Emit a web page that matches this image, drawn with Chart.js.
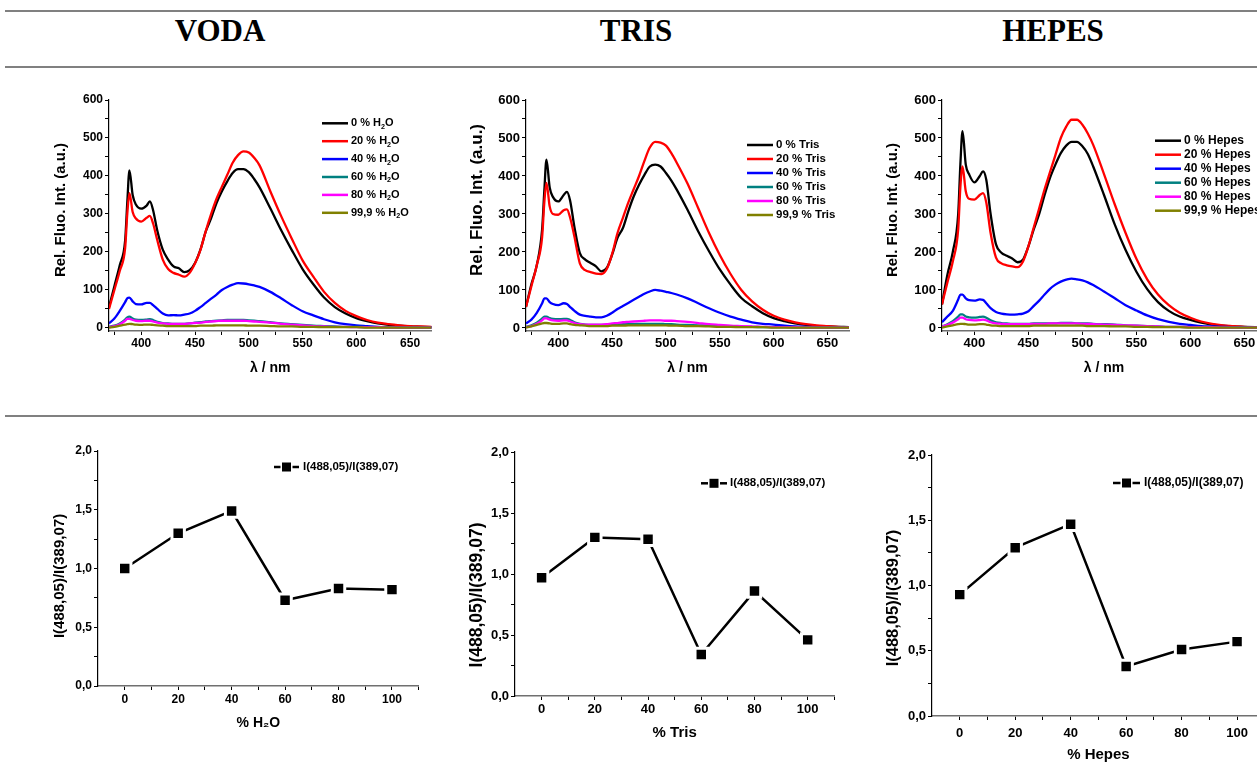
<!DOCTYPE html>
<html lang="en">
  <head>
    <meta charset="UTF-8" />
    <title>VODA / TRIS / HEPES</title>
    <style>
      body {
        margin: 0;
        background: #fff;
        overflow: hidden;
      }
      #page {
        position: relative;
        width: 1257px;
        height: 765px;
        overflow: hidden;
        background: #fff;
      }
      .rule {
        position: absolute;
        left: 5px;
        right: 0;
        height: 2px;
        background: #808080;
      }
      .head {
        position: absolute;
        top: 15px;
        transform: translateX(-50%);
        font: bold 31px "Liberation Serif", "Times New Roman", serif;
        line-height: 31px;
        white-space: nowrap;
      }
      canvas {
        position: absolute;
      }
    </style>
  </head>
  <body>
    <div id="page">
      <div class="rule" style="top: 10px"></div>
      <div class="rule" style="top: 66px"></div>
      <div class="rule" style="top: 415px"></div>
      <div class="head" style="left: 220px">VODA</div>
      <div class="head" style="left: 636px">TRIS</div>
      <div class="head" style="left: 1053px">HEPES</div>
      <canvas id="spVoda"></canvas>
      <canvas id="spTris"></canvas>
      <canvas id="spHepes"></canvas>
      <canvas id="ratioVoda"></canvas>
      <canvas id="ratioTris"></canvas>
      <canvas id="ratioHepes"></canvas>
    </div>

    <script src="https://cdn.jsdelivr.net/npm/chart.js"></script>

    <script>
      // wavelengths (nm) the spectra were read at
      const wavelength = [370, 375, 380, 385, 387, 389, 392, 395, 400, 405, 408, 411, 415, 420, 425, 430, 435, 440, 445, 450, 455, 460, 465, 470, 475, 480, 485, 490, 495, 500, 505, 510, 520, 530, 540, 550, 560, 570, 580, 590, 600, 610, 620, 630, 640, 650, 660, 670];

      // VODA spectra
      const vodaBlack = [55, 110, 165, 230, 330, 415, 350, 325, 314, 322, 333, 310, 255, 206, 180, 162, 157, 147, 152, 171, 206, 254, 289, 329, 360, 386, 408, 418, 418, 410, 392, 370, 315, 258, 205, 155, 115, 80, 55, 38, 26, 18, 12, 8, 6, 4, 3, 2];
      const vodaRed = [50, 100, 150, 210, 300, 355, 305, 288, 280, 290, 295, 275, 230, 180, 155, 145, 140, 135, 145, 170, 205, 255, 300, 340, 372, 403, 435, 455, 465, 462, 448, 428, 360, 295, 235, 178, 135, 95, 66, 45, 31, 21, 14, 10, 7, 5, 4, 3];
      const vodaBlue = [12, 25, 45, 68, 78, 80, 70, 63, 62, 66, 66, 60, 50, 38, 33, 34, 33, 35, 38, 45, 55, 66, 77, 88, 100, 108, 114, 118, 117, 115, 112, 108, 95, 78, 60, 44, 33, 23, 15, 10, 7, 5, 3, 2, 2, 1, 1, 1];
      const vodaTeal = [3, 6, 12, 22, 28, 30, 25, 22, 21, 22, 23, 21, 16, 13, 12, 11, 11, 11, 12, 14, 15, 17, 18, 19, 20, 21, 21, 21, 21, 20, 19, 18, 15, 12, 10, 8, 6, 5, 4, 3, 3, 2, 2, 2, 1, 1, 1, 1];
      const vodaMagenta = [2, 5, 10, 19, 24, 24, 21, 19, 18, 19, 19, 17, 14, 12, 11, 11, 11, 11, 12, 13, 14, 16, 17, 18, 19, 19, 19, 19, 19, 18, 17, 16, 14, 11, 9, 7, 5, 4, 3, 3, 2, 2, 2, 1, 1, 1, 1, 1];
      const vodaOlive = [1, 3, 6, 9, 10, 11, 10, 9, 8, 9, 9, 8, 7, 6, 5, 5, 5, 5, 5, 5, 6, 6, 6, 7, 7, 7, 7, 7, 7, 6, 6, 6, 5, 4, 4, 3, 3, 2, 2, 2, 2, 1, 1, 1, 1, 1, 1, 1];

      // TRIS spectra
      const trisBlack = [55, 115, 165, 260, 360, 443, 370, 345, 333, 350, 358, 335, 265, 197, 180, 171, 162, 149, 158, 193, 237, 263, 307, 346, 377, 403, 425, 430, 425, 408, 388, 364, 311, 254, 202, 154, 114, 79, 57, 39, 26, 18, 12, 8, 5, 4, 3, 2];
      const trisRed = [55, 110, 165, 240, 330, 382, 320, 300, 298, 310, 312, 290, 240, 170, 152, 147, 143, 142, 155, 195, 250, 290, 330, 365, 400, 440, 475, 490, 488, 480, 460, 435, 380, 315, 250, 192, 142, 100, 70, 48, 32, 22, 15, 10, 7, 5, 3, 2];
      const trisBlue = [12, 22, 40, 65, 78, 78, 68, 63, 60, 65, 63, 55, 45, 35, 32, 30, 28, 28, 32, 40, 50, 58, 66, 74, 82, 90, 96, 100, 98, 95, 92, 88, 78, 65, 52, 40, 30, 22, 15, 11, 9, 6, 4, 3, 2, 1, 1, 1];
      const trisTeal = [3, 7, 14, 25, 30, 30, 26, 24, 23, 24, 24, 21, 15, 11, 9, 8, 8, 8, 8, 9, 9, 10, 10, 10, 11, 11, 11, 11, 11, 10, 10, 9, 8, 7, 6, 5, 4, 3, 3, 2, 2, 2, 1, 1, 1, 1, 1, 1];
      const trisMagenta = [2, 5, 11, 20, 25, 25, 22, 20, 19, 20, 20, 17, 13, 10, 9, 9, 9, 9, 10, 12, 13, 15, 16, 17, 18, 19, 20, 20, 20, 19, 19, 18, 16, 13, 10, 8, 6, 5, 4, 3, 2, 2, 2, 1, 1, 1, 1, 1];
      const trisOlive = [1, 4, 8, 12, 13, 13, 12, 11, 11, 12, 12, 10, 8, 7, 6, 5, 5, 5, 5, 6, 6, 6, 7, 7, 7, 7, 7, 7, 7, 7, 6, 6, 5, 5, 4, 3, 3, 2, 2, 2, 1, 1, 1, 1, 1, 1, 1, 1];

      // HEPES spectra
      const hepesBlack = [62, 140, 200, 300, 430, 518, 430, 405, 383, 400, 412, 390, 300, 220, 198, 190, 183, 173, 180, 215, 260, 300, 350, 395, 430, 460, 480, 490, 490, 478, 458, 425, 350, 272, 205, 148, 102, 68, 45, 30, 21, 14, 9, 6, 4, 3, 2, 1];
      const hepesRed = [62, 120, 175, 260, 370, 425, 360, 340, 338, 350, 355, 330, 250, 185, 170, 165, 162, 160, 175, 215, 265, 315, 365, 410, 455, 500, 530, 548, 548, 535, 512, 482, 405, 325, 250, 182, 128, 88, 60, 40, 27, 17, 11, 7, 5, 3, 2, 2];
      const hepesBlue = [15, 30, 45, 75, 88, 88, 78, 73, 72, 75, 74, 65, 52, 42, 38, 36, 35, 36, 38, 44, 58, 72, 88, 103, 114, 122, 127, 130, 128, 125, 120, 113, 96, 78, 60, 46, 33, 23, 16, 11, 8, 5, 4, 3, 2, 2, 1, 1];
      const hepesTeal = [4, 10, 18, 30, 36, 36, 30, 28, 27, 29, 30, 27, 20, 15, 13, 12, 11, 11, 11, 11, 12, 12, 12, 12, 12, 13, 13, 13, 12, 12, 12, 11, 10, 9, 7, 6, 5, 4, 3, 3, 2, 2, 2, 1, 1, 1, 1, 1];
      const hepesMagenta = [3, 8, 14, 23, 27, 27, 23, 21, 20, 21, 22, 20, 15, 12, 11, 10, 10, 10, 10, 10, 11, 11, 11, 12, 12, 12, 12, 12, 12, 11, 11, 10, 9, 8, 7, 6, 5, 4, 3, 3, 2, 2, 2, 1, 1, 1, 1, 1];
      const hepesOlive = [1, 4, 7, 10, 11, 11, 10, 9, 9, 10, 10, 9, 7, 6, 5, 5, 5, 5, 5, 5, 6, 6, 6, 6, 6, 6, 6, 6, 6, 6, 5, 5, 5, 4, 4, 3, 3, 2, 2, 2, 1, 1, 1, 1, 1, 1, 1, 1];

      const vodaLabels = ["0 % H₂O", "20 % H₂O", "40 % H₂O", "60 % H₂O", "80 % H₂O", "99,9 % H₂O"];
      const trisLabels = ["0 % Tris", "20 % Tris", "40 % Tris", "60 % Tris", "80 % Tris", "99,9 % Tris"];
      const hepesLabels = ["0 % Hepes", "20 % Hepes", "40 % Hepes", "60 % Hepes", "80 % Hepes", "99,9 % Hepes"];

      // intensity ratio vs. percentage
      const percent = [0, 20, 40, 60, 80, 100];
      const vodaRatio = [1.0, 1.3, 1.49, 0.73, 0.83, 0.82];
      const trisRatio = [0.97, 1.3, 1.285, 0.34, 0.86, 0.46];
      const hepesRatio = [0.93, 1.29, 1.47, 0.38, 0.51, 0.57];
      const ratioLabel = "I(488,05)/I(389,07)";

      // tick positions
      const specXTicks = [375, 400, 425, 450, 475, 500, 525, 550, 575, 600, 625, 650];
      const specYTicks = [0, 50, 100, 150, 200, 250, 300, 350, 400, 450, 500, 550, 600];
      const ratioXTicks = [0, 10, 20, 30, 40, 50, 60, 70, 80, 90, 100, 110];
      const ratioYTicks = [0, 0.25, 0.5, 0.75, 1, 1.25, 1.5, 1.75, 2];

      const seriesColors = ["#000000", "#ff0000", "#0000ff", "#008080", "#ff00ff", "#808000"];
      const FONT = '"Liberation Sans", Arial, Helvetica, sans-serif';

      Chart.defaults.font.family = FONT;
      Chart.defaults.font.weight = "bold";
      Chart.defaults.color = "#000";

      // text with a subscript 2 (H2O)
      function drawRichText(ctx, text, x, y, size) {
        const parts = text.split("₂");
        ctx.textBaseline = "middle";
        ctx.textAlign = "left";
        let cx = x;
        parts.forEach((p, i) => {
          ctx.font = "bold " + size + "px " + FONT;
          ctx.fillText(p, cx, y);
          cx += ctx.measureText(p).width;
          if (i < parts.length - 1) {
            ctx.font = "bold " + size * 0.65 + "px " + FONT;
            ctx.fillText("2", cx, y + size * 0.32);
            cx += ctx.measureText("2").width;
          }
        });
      }

      // Origin style legend placed inside the plot
      const boxLegend = {
        id: "boxLegend",
        afterDatasetsDraw(chart, args, o) {
          if (!o || o.x === undefined) return;
          const ctx = chart.ctx;
          ctx.save();
          chart.data.datasets.forEach((ds, i) => {
            const y = o.y + i * o.dy;
            ctx.strokeStyle = ds.borderColor;
            ctx.lineWidth = o.lineWidth;
            ctx.beginPath();
            ctx.moveTo(o.x, y);
            ctx.lineTo(o.x + o.len, y);
            ctx.stroke();
            if (o.marker) {
              const cx = o.x + o.len / 2;
              const s = o.marker;
              ctx.fillStyle = "#fff";
              ctx.fillRect(cx - s / 2 - 1.5, y - s / 2 - 1.5, s + 3, s + 3);
              ctx.fillStyle = ds.borderColor;
              ctx.fillRect(cx - s / 2, y - s / 2, s, s);
            }
            ctx.fillStyle = "#000";
            drawRichText(ctx, ds.label, o.x + o.len + o.gap, y, o.size);
          });
          ctx.restore();
        },
      };

      // rotated y axis title at a fixed spot
      const sideTitle = {
        id: "sideTitle",
        afterDraw(chart, args, o) {
          if (!o || !o.text) return;
          const ctx = chart.ctx;
          ctx.save();
          ctx.translate(o.x, o.y);
          ctx.rotate(-Math.PI / 2);
          ctx.fillStyle = "#000";
          ctx.font = "bold " + o.size + "px " + FONT;
          ctx.textAlign = "center";
          ctx.textBaseline = "middle";
          ctx.fillText(o.text, 0, 0);
          ctx.restore();
        },
      };
      Chart.register(boxLegend, sideTitle);

      function spectrumSets(labels, series) {
        return series.map((vals, i) => ({
          label: labels[i],
          data: wavelength.map((w, j) => ({ x: w, y: vals[j] })),
          borderColor: seriesColors[i],
          backgroundColor: seriesColors[i],
          borderWidth: 2.3,
          pointRadius: 0,
          cubicInterpolationMode: "monotone",
          order: series.length - i,
        }));
      }

      function ratioSet(vals) {
        return [
          {
            label: ratioLabel,
            data: percent.map((p, j) => ({ x: p, y: vals[j] })),
            borderColor: "#000",
            backgroundColor: "#000",
            borderWidth: 2.5,
            pointStyle: "rect",
            pointRadius: 8.8,
            pointBackgroundColor: "#000",
            pointBorderColor: "#fff",
            pointBorderWidth: 3,
          },
        ];
      }

      const specXFmt = (v) => (v % 50 === 0 ? String(v) : "");
      const specYFmt = (v) => (v % 100 === 0 ? String(v) : "");
      const ratioXFmt = (v) => (v % 20 === 0 && v <= 100 ? String(v) : "");
      const ratioYFmt = (v) =>
        Math.abs(v * 2 - Math.round(v * 2)) < 1e-9 ? v.toFixed(1).replace(".", ",") : "";

      function makeChart(id, p) {
        const canvas = document.getElementById(id);
        canvas.width = p.box.w;
        canvas.height = p.box.h;
        canvas.style.left = p.box.left + "px";
        canvas.style.top = p.box.top + "px";
        const xHeight = p.box.top + p.box.h - p.plot.bottom;
        const yWidth = p.plot.left - p.box.left;
        const lg = Object.assign({}, p.legend, {
          x: p.legend.x - p.box.left,
          y: p.legend.y - p.box.top,
        });
        const tickGrid = { drawOnChartArea: false, tickLength: 4, tickColor: "#000", tickWidth: 1 };

        return new Chart(canvas, {
          type: "line",
          data: { datasets: p.datasets },
          options: {
            responsive: false,
            animation: false,
            devicePixelRatio: 1,
            layout: {
              autoPadding: false,
              padding: {
                left: 0,
                bottom: 0,
                top: p.plot.top - p.box.top,
                right: p.box.left + p.box.w - p.plot.right,
              },
            },
            plugins: {
              legend: { display: false },
              tooltip: { enabled: false },
              boxLegend: lg,
              sideTitle: {
                text: p.y.title,
                size: p.y.size,
                x: p.y.titleX - p.box.left,
                y: p.y.titleY - p.box.top,
              },
            },
            scales: {
              x: {
                type: "linear",
                bounds: "data",
                min: p.x.min,
                max: p.x.max,
                afterFit: (s) => {
                  s.height = xHeight;
                },
                afterBuildTicks: (s) => {
                  s.ticks = p.x.ticks.map((v) => ({ value: v }));
                },
                grid: tickGrid,
                border: { color: "#707070", width: 1.6 },
                ticks: {
                  autoSkip: false,
                  maxRotation: 0,
                  padding: p.x.pad,
                  font: { size: p.x.tick },
                  callback: p.x.fmt,
                },
                title: {
                  display: true,
                  text: p.x.title,
                  font: { size: p.x.size },
                  padding: { top: 0, bottom: p.box.top + p.box.h - p.x.titleY - p.x.size * 0.6 },
                },
              },
              y: {
                type: "linear",
                bounds: "data",
                min: p.y.min,
                max: p.y.max,
                afterFit: (s) => {
                  s.width = yWidth;
                },
                afterBuildTicks: (s) => {
                  s.ticks = p.y.ticks.map((v) => ({ value: v }));
                },
                grid: tickGrid,
                border: { color: "#000", width: 1.2 },
                ticks: {
                  autoSkip: false,
                  padding: 2,
                  font: { size: p.y.tick },
                  callback: p.y.fmt,
                },
                title: { display: false },
              },
            },
          },
        });
      }

      // top row: spectra
      makeChart("spVoda", {
        box: { left: 40, top: 90, w: 400, h: 290 },
        plot: { left: 109, right: 431.6, top: 100, bottom: 331 },
        datasets: spectrumSets(vodaLabels, [vodaBlack, vodaRed, vodaBlue, vodaTeal, vodaMagenta, vodaOlive]),
        x: { min: 370, max: 670, ticks: specXTicks, fmt: specXFmt, tick: 12, pad: 1, title: "λ / nm", size: 14, titleY: 368 },
        y: { min: -8, max: 600, ticks: specYTicks, fmt: specYFmt, tick: 12, title: "Rel. Fluo. Int. (a.u.)", size: 15, titleX: 61, titleY: 210 },
        legend: { x: 322, y: 123.3, dy: 17.9, len: 26, gap: 3, size: 11, lineWidth: 2.5 },
      });

      makeChart("spTris", {
        box: { left: 455, top: 90, w: 400, h: 290 },
        plot: { left: 526, right: 849, top: 100, bottom: 331 },
        datasets: spectrumSets(trisLabels, [trisBlack, trisRed, trisBlue, trisTeal, trisMagenta, trisOlive]),
        x: { min: 370, max: 670, ticks: specXTicks, fmt: specXFmt, tick: 13, pad: 1, title: "λ / nm", size: 14, titleY: 368 },
        y: { min: -8, max: 600, ticks: specYTicks, fmt: specYFmt, tick: 13, title: "Rel. Fluo. Int. (a.u.)", size: 17, titleX: 477, titleY: 200 },
        legend: { x: 747, y: 145, dy: 14, len: 26, gap: 3, size: 11.5, lineWidth: 2.5 },
      });

      makeChart("spHepes", {
        box: { left: 870, top: 90, w: 400, h: 290 },
        plot: { left: 942, right: 1266, top: 100, bottom: 331 },
        datasets: spectrumSets(hepesLabels, [hepesBlack, hepesRed, hepesBlue, hepesTeal, hepesMagenta, hepesOlive]),
        x: { min: 370, max: 670, ticks: specXTicks, fmt: specXFmt, tick: 13, pad: 1, title: "λ / nm", size: 14, titleY: 368 },
        y: { min: -8, max: 600, ticks: specYTicks, fmt: specYFmt, tick: 13, title: "Rel. Fluo. Int. (a.u.)", size: 15, titleX: 893, titleY: 210 },
        legend: { x: 1155, y: 140.7, dy: 14, len: 26, gap: 3, size: 12, lineWidth: 2.5 },
      });

      // bottom row: intensity ratio
      makeChart("ratioVoda", {
        box: { left: 40, top: 440, w: 400, h: 300 },
        plot: { left: 98, right: 418.7, top: 451, bottom: 686 },
        datasets: ratioSet(vodaRatio),
        x: { min: -10, max: 110, ticks: ratioXTicks, fmt: ratioXFmt, tick: 12, pad: 2.8, title: "% H₂O", size: 14, titleY: 723 },
        y: { min: 0, max: 2, ticks: ratioYTicks, fmt: ratioYFmt, tick: 12, title: ratioLabel, size: 15, titleX: 60, titleY: 576 },
        legend: { x: 274, y: 467, dy: 0, len: 25, gap: 4, size: 11.5, lineWidth: 2.5, marker: 9 },
      });

      makeChart("ratioTris", {
        box: { left: 455, top: 440, w: 400, h: 310 },
        plot: { left: 515, right: 834.3, top: 452, bottom: 696 },
        datasets: ratioSet(trisRatio),
        x: { min: -10, max: 110, ticks: ratioXTicks, fmt: ratioXFmt, tick: 13, pad: 1.2, title: "% Tris", size: 15, titleY: 733 },
        y: { min: 0, max: 2, ticks: ratioYTicks, fmt: ratioYFmt, tick: 13, title: ratioLabel, size: 17.5, titleX: 477, titleY: 595 },
        legend: { x: 701, y: 483.3, dy: 0, len: 26, gap: 3, size: 11.5, lineWidth: 2.5, marker: 9 },
      });

      makeChart("ratioHepes", {
        box: { left: 870, top: 440, w: 400, h: 325 },
        plot: { left: 932, right: 1265.5, top: 455, bottom: 716 },
        datasets: ratioSet(hepesRatio),
        x: { min: -10, max: 110, ticks: ratioXTicks, fmt: ratioXFmt, tick: 13, pad: 5.2, title: "% Hepes", size: 15, titleY: 755 },
        y: { min: 0, max: 2, ticks: ratioYTicks, fmt: ratioYFmt, tick: 13, title: ratioLabel, size: 16.5, titleX: 893, titleY: 598 },
        legend: { x: 1113, y: 483, dy: 0, len: 27, gap: 4, size: 12, lineWidth: 2.5, marker: 9 },
      });
    </script>
  </body>
</html>
